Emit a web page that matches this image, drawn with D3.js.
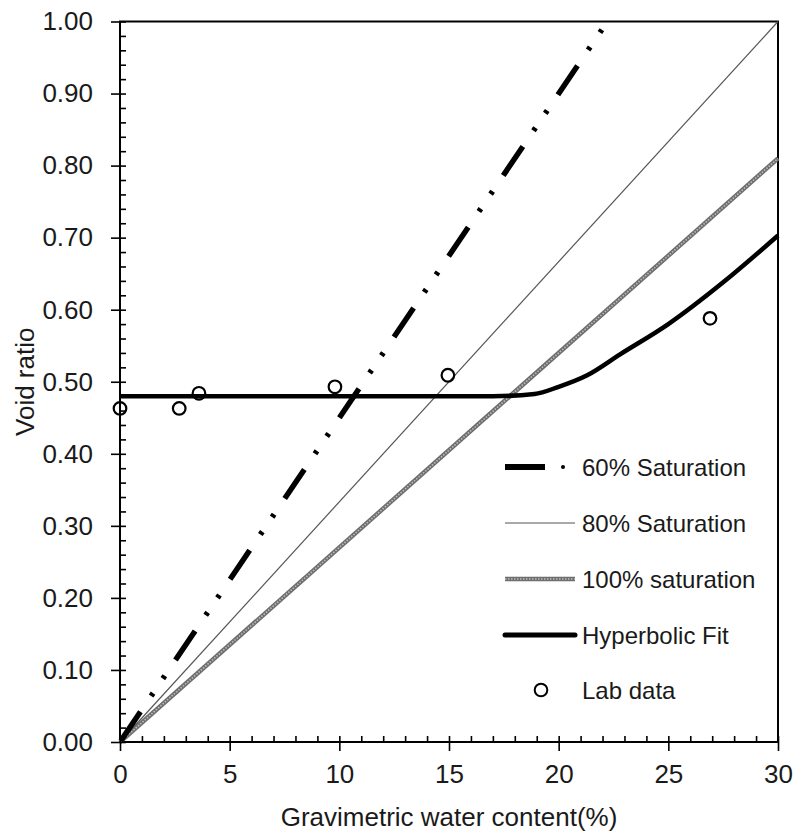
<!DOCTYPE html>
<html>
<head>
<meta charset="utf-8">
<script src="https://d3js.org/d3.v7.min.js"></script>
<style>
    body { margin: 0; background: #fff; }
    text { font-family: "Liberation Sans", Arial, sans-serif; fill: #1a1a1a; }
</style>
</head>
<body>
<svg id="chart" width="799" height="836"></svg>
<script>
// values
let sat60 = [[0, 0], [22, 0.99]];
let sat80 = [[0, 0], [30, 1.0]];
let sat100 = [[0, 0], [30, 0.81]];
let hyperbolic = [[0, 0.48], [17, 0.48], [18.9, 0.483], [20, 0.493], [21.3, 0.509],
    [22.8, 0.538], [25, 0.58], [27.5, 0.638], [30, 0.703]];
let labW = [0, 2.7, 3.6, 9.8, 14.95, 26.9];
let labE = [0.463, 0.463, 0.484, 0.493, 0.509, 0.588];
let xTicks = [0, 5, 10, 15, 20, 25, 30];
let yTicks = [0, 0.1, 0.2, 0.3, 0.4, 0.5, 0.6, 0.7, 0.8, 0.9, 1.0];
let xMinor = d3.range(0, 31, 1);
let yMinor = d3.range(0, 51, 1).map(function (i) { return i / 50; });
let legendNames = ["60% Saturation", "80% Saturation", "100% saturation", "Hyperbolic Fit", "Lab data"];

let svg = d3.select("#chart");
let pLeft = 120, pRight = 778, pTop = 21.5, pBottom = 742;

let xScale = d3.scaleLinear().domain([0, 30]).range([pLeft, pRight]);
let yScale = d3.scaleLinear().domain([0, 1]).range([pBottom, pTop]);

let line = d3.line()
    .x(function (d) { return xScale(d[0]); })
    .y(function (d) { return yScale(d[1]); });

// frame
svg.append("rect")
    .attr("x", pLeft).attr("y", pTop)
    .attr("width", pRight - pLeft).attr("height", pBottom - pTop)
    .attr("fill", "none").attr("stroke", "#000").attr("stroke-width", 2);

// 100% saturation (textured grey band)
svg.append("path").datum(sat100).attr("d", line)
    .attr("fill", "none").attr("stroke", "#6e6e6e").attr("stroke-width", 4.5);
svg.append("path").datum(sat100).attr("d", line)
    .attr("fill", "none").attr("stroke", "#bdbdbd").attr("stroke-width", 1.6)
    .attr("stroke-dasharray", "1.5,1.5");

// 80% saturation
svg.append("path").datum(sat80).attr("d", line)
    .attr("fill", "none").attr("stroke", "#555").attr("stroke-width", 1.2);

// 60% saturation, long dash dot dot
svg.append("path").datum(sat60).attr("d", line)
    .attr("fill", "none").attr("stroke", "#000").attr("stroke-width", 5.5)
    .attr("stroke-dasharray", "35,19,3.5,17.5,3.5,19")
    .attr("stroke-dashoffset", -1.5);

// hyperbolic fit
svg.append("path").datum(hyperbolic).attr("d", line.curve(d3.curveMonotoneX))
    .attr("fill", "none").attr("stroke", "#000").attr("stroke-width", 4.5)
    .attr("stroke-linejoin", "round");

// lab data
svg.append("g").selectAll("circle")
    .data(labW)
    .enter().append("circle")
    .attr("cx", function (d) { return xScale(d); })
    .attr("cy", function (d, i) { return yScale(labE[i]); })
    .attr("r", 6.3)
    .attr("fill", "none").attr("stroke", "#000").attr("stroke-width", 2.2);

// axes: major ticks crossing out, minor ticks inside
let xAxis = d3.axisBottom(xScale).tickValues(xTicks)
    .tickSizeInner(9).tickSizeOuter(0).tickPadding(14)
    .tickFormat(d3.format("d"));
let xg = svg.append("g").attr("transform", "translate(0," + pBottom + ")").call(xAxis);
let xIn = d3.axisTop(xScale).tickValues(xMinor).tickSize(6).tickFormat("");
let xg2 = svg.append("g").attr("transform", "translate(0," + pBottom + ")").call(xIn);

let yAxis = d3.axisLeft(yScale).tickValues(yTicks)
    .tickSizeInner(9).tickSizeOuter(0).tickPadding(18)
    .tickFormat(d3.format(".2f"));
let yg = svg.append("g").attr("transform", "translate(" + pLeft + ",0)").call(yAxis);
let yIn = d3.axisRight(yScale).tickValues(yMinor).tickSize(6).tickFormat("");
let yg2 = svg.append("g").attr("transform", "translate(" + pLeft + ",0)").call(yIn);

[xg, xg2, yg, yg2].forEach(function (g) {
    g.select(".domain").remove();
    g.selectAll("line").attr("stroke", "#000").attr("stroke-width", 1.6);
    g.selectAll("text").attr("font-size", 26).attr("fill", "#1a1a1a")
        .attr("font-family", "Liberation Sans, Arial, sans-serif");
});

// axis titles
svg.append("text")
    .attr("x", (pLeft + pRight) / 2).attr("y", 826)
    .attr("text-anchor", "middle").attr("font-size", 26)
    .text("Gravimetric water content(%)");
svg.append("text")
    .attr("transform", "translate(34," + (pTop + pBottom) / 2 + ") rotate(-90)")
    .attr("text-anchor", "middle").attr("font-size", 26)
    .text("Void ratio");

// legend
let legend = svg.append("g");
let rowY = [467, 523, 579, 635, 690];
let lx0 = 505, lx1 = 575, tx = 582;

legend.append("line")
    .attr("x1", lx0).attr("x2", 545).attr("y1", rowY[0]).attr("y2", rowY[0])
    .attr("stroke", "#000").attr("stroke-width", 6);
legend.append("circle")
    .attr("cx", 563).attr("cy", rowY[0]).attr("r", 2).attr("fill", "#000");
legend.append("line")
    .attr("x1", lx0).attr("x2", lx1).attr("y1", rowY[1]).attr("y2", rowY[1])
    .attr("stroke", "#555").attr("stroke-width", 1.2);
legend.append("line")
    .attr("x1", lx0).attr("x2", lx1).attr("y1", rowY[2]).attr("y2", rowY[2])
    .attr("stroke", "#6e6e6e").attr("stroke-width", 4.5);
legend.append("line")
    .attr("x1", lx0).attr("x2", lx1).attr("y1", rowY[2]).attr("y2", rowY[2])
    .attr("stroke", "#bdbdbd").attr("stroke-width", 1.6).attr("stroke-dasharray", "1.5,1.5");
legend.append("line")
    .attr("x1", lx0).attr("x2", lx1).attr("y1", rowY[3]).attr("y2", rowY[3])
    .attr("stroke", "#000").attr("stroke-width", 5).attr("stroke-linecap", "round");
legend.append("circle")
    .attr("cx", 541).attr("cy", rowY[4]).attr("r", 6.3)
    .attr("fill", "none").attr("stroke", "#000").attr("stroke-width", 2);

legend.selectAll("text.lg")
    .data(legendNames)
    .enter().append("text")
    .attr("class", "lg")
    .attr("x", tx)
    .attr("y", function (d, i) { return rowY[i] + 8.5; })
    .attr("font-size", 24)
    .text(function (d) { return d; });
</script>
</body>
</html>
